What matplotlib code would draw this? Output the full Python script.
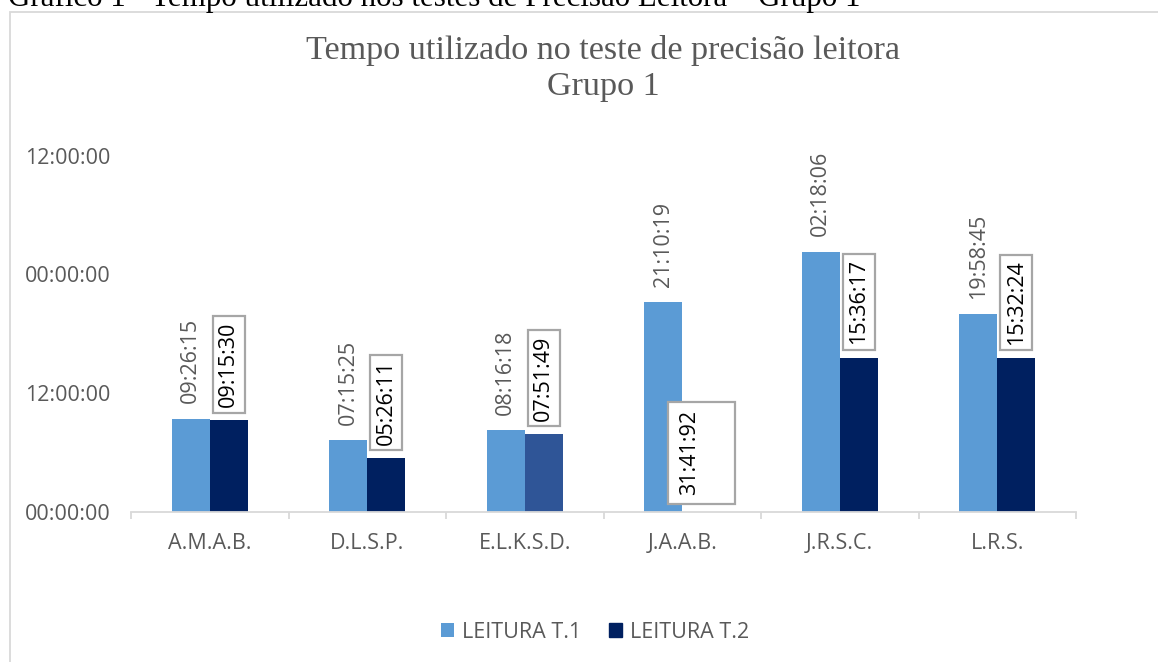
import matplotlib
matplotlib.use("Agg")
import matplotlib.pyplot as plt
from matplotlib.patches import Rectangle
import numpy as np

categories = ["A.M.A.B.", "D.L.S.P.", "E.L.K.S.D.", "J.A.A.B.", "J.R.S.C.", "L.R.S."]
# values in hours (as plotted)
leitura_t1 = [9.44, 7.26, 8.27, 21.17, 26.30, 19.98]
leitura_t2 = [9.26, 5.44, 7.86, 0.0, 15.60, 15.54]
labels_t1 = ["09:26:15", "07:15:25", "08:16:18", "21:10:19", "02:18:06", "19:58:45"]
labels_t2 = ["09:15:30", "05:26:11", "07:51:49", "31:41:92", "15:36:17", "15:32:24"]
ytick_values = [0, 12, 24, 36]
ytick_labels = ["00:00:00", "12:00:00", "00:00:00", "12:00:00"]
series_names = ["LEITURA T.1", "LEITURA T.2"]

C1 = "#5B9BD5"
C2 = "#002060"
C2_alt = "#2F5597"
GREY_TXT = "#595959"
AXIS_C = "#D9D9D9"
BOX_C = "#A6A6A6"

W, H = 1158, 662
fig = plt.figure(figsize=(W / 100, H / 100), dpi=100)

SANS = ["Open Sans", "DejaVu Sans"]
SERIF = ["Liberation Serif", "DejaVu Serif"]
FS = 15.5

# chart frame (extends past right/bottom)
fig.patches.append(Rectangle((10 / W, -0.1), 1.2, (H - 12) / H + 0.1,
                             transform=fig.transFigure, fill=False,
                             edgecolor=AXIS_C, linewidth=1.3, zorder=0))

# caption cut at top
fig.text(8 / W, (H - 6) / H,
         "Gráfico 1 - Tempo utilizado nos testes de Precisão Leitora – Grupo 1",
         family=SERIF, fontsize=22.3, color="black", ha="left", va="baseline")

# chart title
cx = 0.5 * (131 + 1076) / W
fig.text(cx, (H - 50) / H, "Tempo utilizado no teste de precisão leitora",
         family=SERIF, fontsize=24.6, color=GREY_TXT, ha="center", va="center")
fig.text(cx, (H - 87) / H, "Grupo 1",
         family=SERIF, fontsize=24.6, color=GREY_TXT, ha="center", va="center")

ax = fig.add_axes([131 / W, 150 / H, (1076 - 131) / W, (512 - 155.7) / H])

x = np.arange(len(categories))
bw = 0.241
colors_t2 = [C2, C2, C2_alt, C2, C2, C2]
b1 = ax.bar(x - bw / 2, leitura_t1, bw, color=C1, label=series_names[0], zorder=2)
b2 = ax.bar(x + bw / 2, leitura_t2, bw, color=colors_t2, label=series_names[1], zorder=2)

ax.set_xlim(-0.5, len(categories) - 0.5)
ax.set_ylim(0, 36)
ax.set_yticks(ytick_values)
ax.set_yticklabels(ytick_labels, family=SANS, fontsize=FS, color=GREY_TXT)
ax.tick_params(axis="y", length=0, pad=15)
ax.set_xticks(x)
ax.set_xticklabels(categories, family=SANS, fontsize=FS, color=GREY_TXT)
ax.set_xticks(np.arange(len(categories) + 1) - 0.5, minor=True)
ax.tick_params(axis="x", which="major", length=0, pad=15)
ax.tick_params(axis="x", which="minor", length=5, color=AXIS_C, width=1.3)
for s in ["top", "right", "left"]:
    ax.spines[s].set_visible(False)
ax.spines["bottom"].set_color(AXIS_C)
ax.spines["bottom"].set_linewidth(1.3)

# labels
for xi, v, lab in zip(x - bw / 2, leitura_t1, labels_t1):
    ax.annotate(lab, (xi, v), xytext=(0, 11), textcoords="offset points",
                rotation=90, ha="center", va="bottom", family=SANS,
                fontsize=FS, color=GREY_TXT)

for i, (xi, v, lab) in enumerate(zip(x + bw / 2, leitura_t2, labels_t2)):
    if v > 0:
        ax.annotate(lab, (xi, v), xytext=(0, 9.5), textcoords="offset points",
                    rotation=90, ha="center", va="bottom", family=SANS,
                    fontsize=FS, color="black",
                    bbox=dict(boxstyle="square,pad=0.25", fc="white",
                              ec=BOX_C, lw=1.6))
    else:
        ax.add_patch(Rectangle((xi - 0.2125, 0.8), 0.425, 10.3, facecolor="white",
                               edgecolor=BOX_C, lw=1.6, zorder=3))
        ax.text(xi - 0.075, 6.0, lab, rotation=90, ha="center", va="center",
                family=SANS, fontsize=FS, color="black", zorder=4)

leg = fig.legend(handles=[b1, b2], labels=series_names, loc="center",
                 bbox_to_anchor=(595 / W, (H - 632) / H), ncol=2, frameon=False,
                 prop={"family": SANS, "size": FS}, handlelength=0.6,
                 handleheight=0.6, handletextpad=0.35, columnspacing=1.3)
for t in leg.get_texts():
    t.set_color(GREY_TXT)
leg.legend_handles[1].set_color(C2)

fig.savefig("out.png", dpi=100)
